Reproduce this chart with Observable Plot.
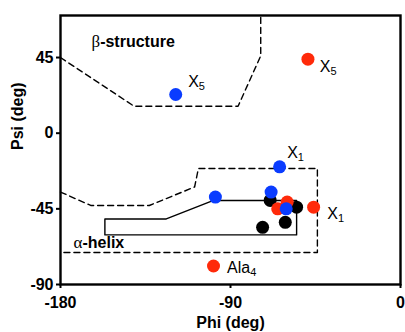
<!DOCTYPE html>
<html>
<head>
<meta charset="utf-8">
<script src="https://cdn.jsdelivr.net/npm/d3@7"></script>
<script src="https://cdn.jsdelivr.net/npm/@observablehq/plot@0.6"></script>
<style>
  html, body { margin: 0; padding: 0; background: #fff; }
  #chart svg { display: block; font-family: "Liberation Sans", Arial, sans-serif; }
</style>
</head>
<body>
<div id="chart"></div>
<script>
// Ramachandran plot: backbone dihedral angles (phi, psi) in degrees

// Region boundaries, [phi, psi]
const betaBoundary = [[-180, 45], [-141, 16], [-86, 16], [-74, 46], [-74, 70]];
const helixBoundary = [[-180, -35], [-164, -43], [-133, -43], [-109, -32], [-107, -21], [-44, -21], [-44, -71], [-180, -71]];
const helixCore = [[-156.5, -51], [-124, -51], [-99, -40], [-55, -40], [-55, -60.5], [-156.5, -60.5], [-156.5, -51]];

// Residue angles, one array per group
const blackPhi = [-69, -55, -61, -73];
const blackPsi = [-40, -44, -53, -56];
const redPhi = [-49, -60, -65, -46, -99];
const redPsi = [44, -41, -45, -44, -79];
const bluePhi = [-119, -64, -98, -68.5, -60.5];
const bluePsi = [23, -20, -38, -35, -45];

// Residue labels ("base_sub" draws sub as a subscript) and where they sit
const residueLabels = ["X_5", "X_5", "X_1", "X_1", "Ala_4"];
const residueLabelPhi = [-112.4, -42.7, -60, -38.8, -91.8];
const residueLabelPsi = [27.6, 36.5, -14.7, -51, -83.2];

// Region names (leading Greek letter drawn in a serif face)
const regionLabels = ["β-structure", "α-helix"];
const regionLabelPhi = [-163.6, -173.1];
const regionLabelPsi = [51.4, -68.3];

const xTicks = [-180, -90, 0];
const yTicks = [-90, -45, 0, 45];

const BLUE = "#0a3cff";
const RED = "#ff2a0a";

const pts = (phi, psi) => phi.map((x, i) => ({x, y: psi[i]}));
const poly = (arr) => arr.map(([x, y]) => ({x, y}));
const labels = (t, phi, psi) => t.map((text, i) => ({text, x: phi[i], y: psi[i]}));

const chart = Plot.plot({
  width: 405,
  height: 332,
  marginLeft: 60,
  marginRight: 5,
  marginTop: 15,
  marginBottom: 48,
  x: {domain: [-180, 0]},
  y: {domain: [-90, 70]},
  marks: [
    Plot.line(poly(betaBoundary), {x: "x", y: "y", stroke: "#000", strokeWidth: 1.4, strokeDasharray: "6,4"}),
    Plot.line(poly(helixBoundary), {x: "x", y: "y", stroke: "#000", strokeWidth: 1.4, strokeDasharray: "6,4"}),
    Plot.line(poly(helixCore), {x: "x", y: "y", stroke: "#000", strokeWidth: 1.4}),
    Plot.dot(pts(blackPhi, blackPsi), {x: "x", y: "y", r: 6.5, fill: "#000"}),
    Plot.dot(pts(redPhi, redPsi), {x: "x", y: "y", r: 6.5, fill: RED}),
    Plot.dot(pts(bluePhi, bluePsi), {x: "x", y: "y", r: 6.5, fill: BLUE}),
    Plot.text(labels(residueLabels, residueLabelPhi, residueLabelPsi), {
      x: "x", y: "y", text: "text", textAnchor: "start", lineAnchor: "bottom",
      fontSize: 16, fill: "#000"
    }),
    Plot.text(labels(regionLabels, regionLabelPhi, regionLabelPsi), {
      x: "x", y: "y", text: "text", textAnchor: "start", lineAnchor: "bottom",
      fontSize: 16, fontWeight: "bold", fill: "#000"
    }),
    Plot.frame({stroke: "#000", strokeWidth: 2.4}),
    Plot.axisX({
      ticks: xTicks, tickFormat: (d) => String(d), tickSize: 4, tickPadding: 8,
      fontSize: 16, fontWeight: "bold", strokeWidth: 2, label: null, color: "#000"
    }),
    Plot.axisY({
      ticks: yTicks, tickFormat: (d) => String(d), tickSize: 4, tickPadding: 3,
      fontSize: 16, fontWeight: "bold", strokeWidth: 2, label: null, color: "#000"
    }),
    Plot.text(["Phi (deg)"], {
      frameAnchor: "bottom", dy: 43, lineAnchor: "bottom",
      fontSize: 16, fontWeight: "bold", fill: "#000"
    }),
    Plot.text(["Psi (deg)"], {
      frameAnchor: "left", dx: -43, rotate: -90,
      fontSize: 16, fontWeight: "bold", fill: "#000"
    })
  ]
});

// Subscripts and Greek letters as tspans
d3.select(chart).selectAll("text").each(function () {
  const el = d3.select(this);
  if (el.selectAll("tspan").size() > 0) return;
  const s = el.text();
  if (s.includes("_")) {
    const [base, sub] = s.split("_");
    el.text(null);
    el.append("tspan").text(base);
    el.append("tspan").attr("dy", "0.3em").attr("font-size", "11px").text(sub);
  } else if (s.startsWith("β") || s.startsWith("α")) {
    el.text(null);
    el.append("tspan")
      .attr("font-family", "'Liberation Serif', 'DejaVu Serif', serif")
      .attr("font-weight", "normal")
      .attr("font-size", "17px")
      .text(s[0]);
    el.append("tspan").text(s.slice(1));
  }
});

document.getElementById("chart").appendChild(chart);
</script>
</body>
</html>
